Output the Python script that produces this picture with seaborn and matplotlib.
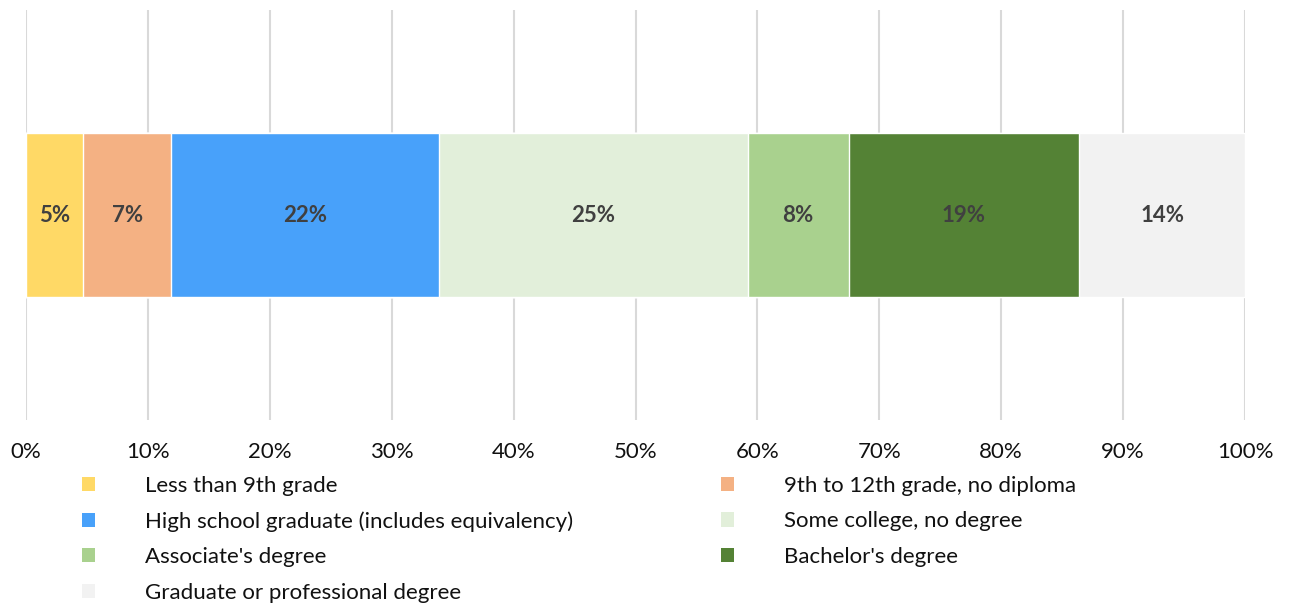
import matplotlib
matplotlib.use("Agg")
import matplotlib.pyplot as plt
from matplotlib.patches import Patch
import seaborn as sns
import pandas as pd
import numpy as np

categories = ["Less than 9th grade", "9th to 12th grade, no diploma",
              "High school graduate (includes equivalency)", "Some college, no degree",
              "Associate's degree", "Bachelor's degree", "Graduate or professional degree"]
values = [4.7, 7.2, 22.0, 25.3, 8.3, 18.9, 13.6]
colors = ["#FFD966", "#F4B183", "#48A1FA", "#E2EFDA", "#A9D18E", "#548235", "#F2F2F2"]
tick_vals = list(range(0, 101, 10))
tick_labels = [f"{t}%" for t in tick_vals]

sns.set_theme(style="white")
plt.rcParams["font.family"] = ["Lato", "DejaVu Sans"]

fig = plt.figure(figsize=(12.89, 6.03), dpi=100)
ax = fig.add_axes([26/1289, 183/603, (1245-26)/1289, 410/603])

cum = np.cumsum(values)
# draw cumulative bars from the largest down so each segment shows
for i in range(len(values) - 1, -1, -1):
    df = pd.DataFrame({"pct": [cum[i]], "row": ["Education"]})
    sns.barplot(data=df, x="pct", y="row", orient="h", color=colors[i],
                width=0.8, ax=ax, saturation=1, zorder=2)

for i, v in enumerate(values):
    ax.text(cum[i] - v / 2, 0, f"{round(v)}%", ha="center", va="center",
            fontsize=16, fontweight="bold", color="#404040", zorder=3)

ax.set_xlim(0, 100)
ax.set_ylim(1.005, -1.005)
ax.set_xticks(tick_vals)
ax.set_xticklabels(tick_labels, fontsize=16, color="#111111")
ax.set_yticks([])
ax.set_xlabel("")
ax.set_ylabel("")
for s in ax.spines.values():
    s.set_visible(False)
ax.xaxis.grid(True, color="#D9D9D9", linewidth=1.5, zorder=0)
ax.set_axisbelow(True)
ax.tick_params(axis="x", length=0, pad=16)

handles = [Patch(facecolor=c, edgecolor="none") for c in colors]
leg_kw = dict(frameon=False, fontsize=16, handlelength=0.6, handleheight=0.6,
              handletextpad=2.25, labelspacing=0.69, borderpad=0, borderaxespad=0,
              loc="upper left", labelcolor="#111111")
left_idx = [0, 2, 4, 6]
right_idx = [1, 3, 5]
fig.legend([handles[i] for i in left_idx], [categories[i] for i in left_idx],
           bbox_to_anchor=(82/1289, 1 - 476/603), **leg_kw)
fig.legend([handles[i] for i in right_idx], [categories[i] for i in right_idx],
           bbox_to_anchor=(721/1289, 1 - 476/603), **leg_kw)

fig.savefig("out.png", dpi=100)
